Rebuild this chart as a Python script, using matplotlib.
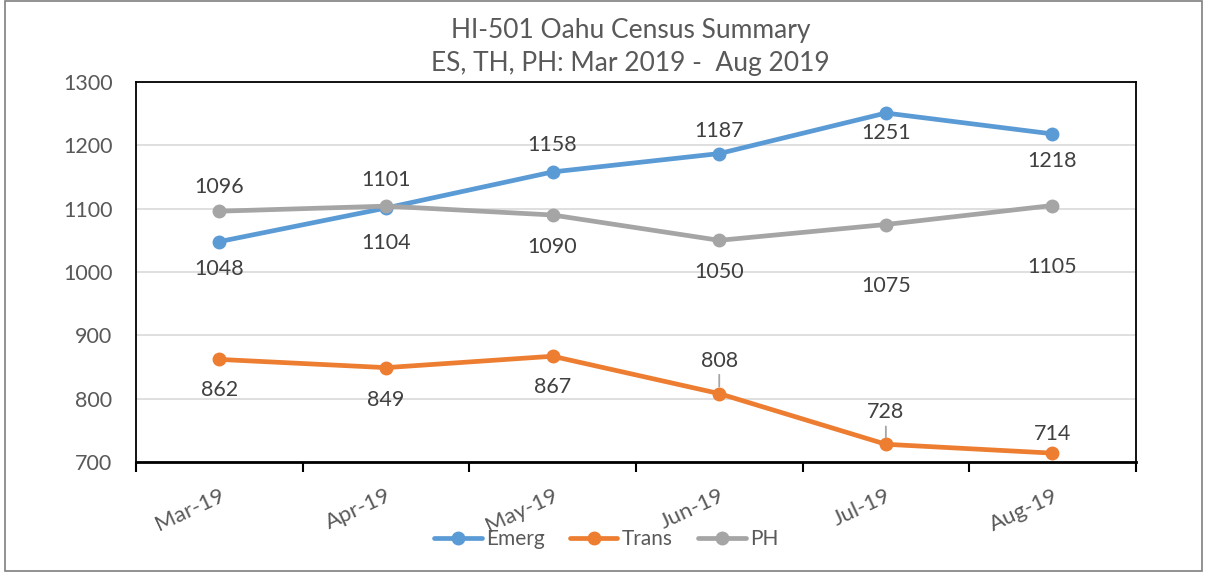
import matplotlib.pyplot as plt
from matplotlib.patches import Rectangle

# HI-501 Oahu census summary, Mar-Aug 2019
months = ['Mar-19', 'Apr-19', 'May-19', 'Jun-19', 'Jul-19', 'Aug-19']
emerg = [1048, 1101, 1158, 1187, 1251, 1218]
trans = [862, 849, 867, 808, 728, 714]
ph = [1096, 1104, 1090, 1050, 1075, 1105]

# label offsets in pixels (positive = up)
emerg_off = [-27, 28, 27, 23, -20, -27]
trans_off = [-31, -32, -31, 33, 32, 19]
ph_off = [24, -37, -32, -32, -61, -61]
trans_leader = [False, False, False, True, True, False]

plt.rcParams['font.family'] = ['Lato', 'DejaVu Sans']
txt = '#595959'

fig = plt.figure(figsize=(12.06, 5.73), dpi=100)
ax = fig.add_axes([0.1128, 0.1937, 0.829, 0.6632])

series = [
    ('Emerg', emerg, '#5B9BD5', emerg_off, [False] * 6),
    ('Trans', trans, '#ED7D31', trans_off, trans_leader),
    ('PH', ph, '#A5A5A5', ph_off, [False] * 6),
]
x = list(range(len(months)))
for name, vals, col, offs, leads in series:
    ax.plot(x, vals, color=col, lw=3.4, marker='o', ms=9, label=name,
            solid_capstyle='round', zorder=3)

for name, vals, col, offs, leads in series:
    for xi, v, o, lead in zip(x, vals, offs, leads):
        kw = {}
        if lead:
            kw['arrowprops'] = dict(arrowstyle='-', color='#A5A5A5', lw=1.3,
                                    shrinkA=1, shrinkB=5)
        ax.annotate(str(v), (xi, v), xytext=(0, o), textcoords='offset pixels',
                    ha='center', va='center', fontsize=15.5, color='#404040',
                    zorder=4, **kw)

ax.set_xlim(-0.5, len(months) - 0.5)
ax.set_ylim(700, 1300)
ax.set_yticks(range(700, 1301, 100))
ax.grid(axis='y', color='#D9D9D9', lw=1.2, zorder=0)
ax.set_axisbelow(True)

ax.set_xticks(x)
ax.set_xticklabels(months, rotation=25, ha='right', rotation_mode='anchor',
                   fontsize=16, color=txt)
ax.set_xticks([i - 0.5 for i in range(len(months) + 1)], minor=True)
ax.tick_params(axis='x', which='major', length=0, pad=17)
ax.tick_params(axis='x', which='minor', length=7, width=1.5, direction='out',
               color='black')
ax.tick_params(axis='y', length=0, labelsize=15.5, labelcolor=txt, pad=17)
for s in ax.spines.values():
    s.set_color('black')
    s.set_linewidth(1.3)
ax.spines['bottom'].set_linewidth(2)

fig.suptitle('HI-501 Oahu Census Summary\nES, TH, PH: Mar 2019 -  Aug 2019',
             fontsize=19, color=txt, x=0.523, y=0.969, linespacing=1.4)

ax.legend(loc='center', bbox_to_anchor=(0.47, -0.203), ncol=3, frameon=False,
          fontsize=15, labelcolor=txt, handlelength=2.3, columnspacing=1.2,
          handletextpad=0.2)

fig.patches.append(Rectangle((0.004, 0.003), 0.993, 0.995, transform=fig.transFigure,
                             fill=False, ec='#7F7F7F', lw=1.2))

fig.savefig('out.png', dpi=100)
